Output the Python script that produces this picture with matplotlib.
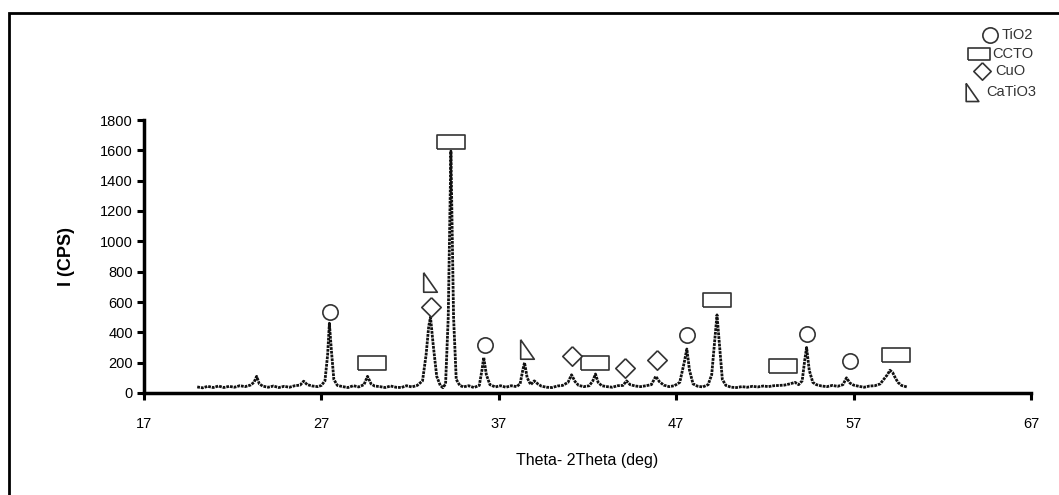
import matplotlib
matplotlib.use("Agg")
import matplotlib.pyplot as plt
from matplotlib.lines import Line2D
from matplotlib.patches import Rectangle

# ---- data ----
two_theta = [20.0, 20.3, 20.6, 20.9, 21.2, 21.5, 21.8, 22.1, 22.4, 22.7, 23.0, 23.2, 23.35, 23.5, 23.7,
             24.0, 24.3, 24.6, 24.9, 25.2, 25.5, 25.8, 26.0, 26.2, 26.5, 26.8, 27.0, 27.2, 27.35, 27.45,
             27.55, 27.7, 27.9, 28.2, 28.5, 28.8, 29.1, 29.4, 29.6, 29.8, 30.0, 30.3, 30.6, 30.9, 31.2,
             31.5, 31.8, 32.1, 32.4, 32.7, 32.9, 33.05, 33.15, 33.3, 33.5, 33.7, 33.85, 34.0, 34.15, 34.3,
             34.45, 34.6, 34.8, 35.0, 35.3, 35.6, 35.9, 36.05, 36.15, 36.3, 36.5, 36.8, 37.1, 37.4, 37.7,
             38.0, 38.2, 38.35, 38.45, 38.6, 38.8, 39.0, 39.2, 39.4, 39.7, 40.0, 40.3, 40.6, 40.9, 41.1,
             41.3, 41.5, 41.8, 42.1, 42.3, 42.45, 42.6, 42.8, 43.1, 43.4, 43.7, 44.0, 44.2, 44.4, 44.7,
             45.0, 45.3, 45.6, 45.85, 46.05, 46.3, 46.6, 46.9, 47.2, 47.45, 47.6, 47.75, 47.95, 48.2, 48.5,
             48.8, 49.0, 49.2, 49.3, 49.45, 49.6, 49.8, 50.1, 50.4, 50.7, 51.0, 51.3, 51.6, 51.9, 52.2,
             52.5, 52.8, 53.1, 53.4, 53.7, 53.9, 54.1, 54.25, 54.35, 54.5, 54.7, 54.9, 55.2, 55.5, 55.8,
             56.1, 56.4, 56.6, 56.8, 57.0, 57.3, 57.6, 57.9, 58.2, 58.5, 58.7, 58.9, 59.05, 59.2, 59.35,
             59.5, 59.7, 60.0]
intensity = [40, 34, 44, 36, 46, 36, 44, 38, 48, 42, 52, 70, 110, 60, 45,
             38, 46, 36, 44, 38, 48, 52, 78, 55, 46, 42, 50, 80, 250, 460,
             300, 90, 50, 42, 36, 48, 40, 55, 110, 60, 46, 42, 36, 46, 38,
             36, 48, 40, 50, 80, 250, 440, 500, 320, 110, 50, 35, 60, 500, 1595,
             500, 90, 50, 40, 48, 36, 50, 150, 235, 120, 55, 40, 48, 38, 48,
             42, 60, 150, 200, 100, 55, 80, 60, 45, 38, 36, 46, 50, 70, 120,
             75, 50, 42, 48, 80, 125, 70, 48, 42, 38, 48, 50, 80, 55, 46,
             42, 48, 55, 110, 75, 52, 42, 48, 70, 200, 290, 150, 60, 45, 40,
             55, 120, 380, 515, 300, 90, 50, 38, 36, 42, 38, 44, 40, 46, 42,
             48, 50, 52, 60, 70, 55, 80, 220, 300, 150, 70, 55, 46, 42, 50,
             44, 55, 100, 65, 52, 44, 38, 46, 48, 60, 90, 120, 150, 135, 100,
             70, 50, 40]

# phase markers (2theta, intensity)
tio2_x = [27.5, 36.2, 47.6, 54.4, 56.8]
tio2_y = [535, 317, 383, 390, 211]
ccto_x = [29.85, 34.3, 42.4, 49.3, 53.0, 59.4]
ccto_y = [198, 1653, 198, 614, 178, 251]
cuo_x = [33.2, 41.1, 44.1, 45.9]
cuo_y = [568, 244, 165, 218]
catio3_x = [33.1, 38.6]
catio3_y = [733, 290]

phase_labels = ["TiO2", "CCTO", "CuO", "CaTiO3"]
x_ticks = [17, 27, 37, 47, 57, 67]
y_ticks = [0, 200, 400, 600, 800, 1000, 1200, 1400, 1600, 1800]

FONT = ["Liberation Sans Narrow", "Liberation Sans", "DejaVu Sans"]
plt.rcParams["font.family"] = FONT

W, H = 1059, 495
fig = plt.figure(figsize=(W / 100, H / 100), dpi=100)
fig.patch.set_facecolor("white")

# figure outer frame
fig.patches.append(Rectangle((9 / W, -0.1), 1.2, 1 - 13 / H + 0.1, transform=fig.transFigure,
                             fill=False, edgecolor="black", linewidth=2.0))

ax = fig.add_axes([144 / W, 1 - 393 / H, (1031 - 144) / W, (393 - 120) / H])
ax.plot(two_theta, intensity, color="#111111", linewidth=2.0, linestyle=(0, (1.0, 0.35)))

circle_m = "o"
rect_m = [(-1, -0.5), (1, -0.5), (1, 0.5), (-1, 0.5), (-1, -0.5)]
diam_m = [(0, 1), (1, 0), (0, -1), (-1, 0), (0, 1)]
tri_m = [(-0.7, 1), (-0.7, -1), (0.7, -1), (-0.7, 1)]

mk = dict(linestyle="none", markerfacecolor="white", markeredgecolor="#333333", markeredgewidth=1.2,
          clip_on=False)
ax.plot(tio2_x, tio2_y, marker=circle_m, markersize=11, **mk)
ax.plot(ccto_x, ccto_y, marker=rect_m, markersize=19.5, **mk)
ax.plot(cuo_x, cuo_y, marker=diam_m, markersize=14, **mk)
ax.plot(catio3_x, catio3_y, marker=tri_m, markersize=14, **mk)

ax.set_xlim(17, 67)
ax.set_ylim(0, 1800)
ax.set_xticks(x_ticks)
ax.set_yticks(y_ticks)
for s in ["top", "right"]:
    ax.spines[s].set_visible(False)
for s in ["left", "bottom"]:
    ax.spines[s].set_linewidth(2.5)
ax.tick_params(axis="both", direction="out", length=5, width=2.2, labelsize=10.5, colors="black")
ax.tick_params(axis="x", pad=12)
ax.tick_params(axis="y", pad=3)
ax.set_xlabel("Theta- 2Theta (deg)", fontsize=11.5, labelpad=16)
ax.set_ylabel("I (CPS)", fontsize=13, fontweight="bold", labelpad=18)

# legend (top right), placed in figure pixels
legend_items = [
    (circle_m, 11, 990, 35, 1002),
    (rect_m, 16, 979, 54, 992),
    (diam_m, 12.5, 982, 71, 995),
    (tri_m, 13, 972, 92, 986),
]
for (m, ms, px, py, tx), lab in zip(legend_items, phase_labels):
    fig.add_artist(Line2D([px / W], [1 - py / H], transform=fig.transFigure, marker=m,
                          markersize=ms, **mk))
    fig.text(tx / W, 1 - py / H, lab, fontsize=10.5, color="#333333", va="center", ha="left")

fig.savefig("out.png", dpi=100, facecolor="white")
